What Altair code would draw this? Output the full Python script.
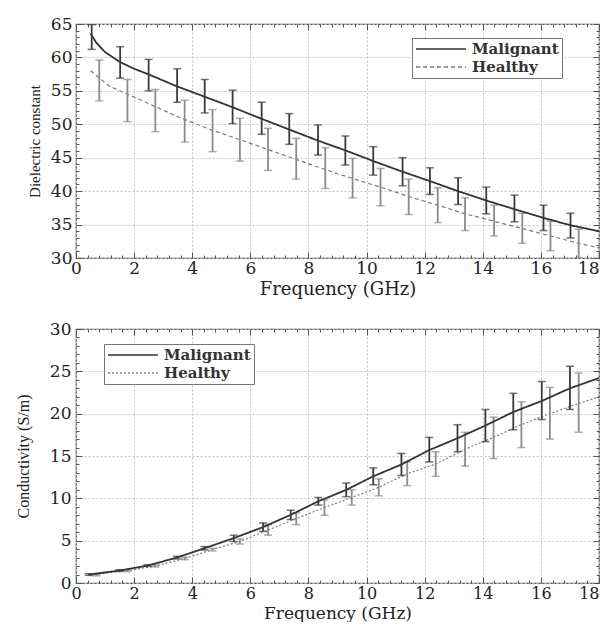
import altair as alt
import pandas as pd

# ---------------- Panel 1: dielectric constant ----------------
de_mal_f = [0.54, 1.52, 2.50, 3.48, 4.43, 5.39, 6.39, 7.34, 8.33, 9.27, 10.23, 11.24, 12.18, 13.15, 14.12, 15.09, 16.09, 17.02]
de_mal_lo = [61.2, 56.9, 55.0, 53.3, 51.7, 50.1, 48.5, 47.0, 45.4, 43.9, 42.4, 40.8, 39.5, 38.0, 36.6, 35.4, 34.1, 33.0]
de_mal_hi = [64.9, 61.6, 59.7, 58.3, 56.7, 55.1, 53.3, 51.6, 49.9, 48.25, 46.65, 45.0, 43.5, 42.0, 40.6, 39.4, 37.9, 36.7]

de_hea_f = [0.80, 1.77, 2.73, 3.74, 4.70, 5.64, 6.61, 7.58, 8.58, 9.52, 10.48, 11.45, 12.45, 13.39, 14.39, 15.36, 16.33, 17.30]
de_hea_lo = [53.5, 50.4, 48.9, 47.35, 45.9, 44.5, 43.1, 41.8, 40.4, 39.0, 37.8, 36.5, 35.3, 34.1, 33.3, 32.2, 31.1, 30.05]
de_hea_hi = [59.6, 56.7, 55.2, 53.6, 52.2, 50.9, 49.4, 47.9, 46.5, 44.9, 43.4, 41.8, 40.5, 39.0, 37.9, 36.7, 35.5, 34.3]

de_mal_curve_f = [0.5, 0.7, 1.0, 1.5, 2.0, 2.48, 3.46, 4.44, 5.36, 6.34, 7.32, 8.3, 9.27, 10.23, 11.24, 12.18, 13.15, 14.12, 15.09, 16.09, 17.02, 18.0]
de_mal_curve_v = [63.6, 62.2, 60.8, 59.35, 58.3, 57.5, 55.7, 54.1, 52.6, 50.9, 49.25, 47.6, 46.1, 44.5, 42.9, 41.5, 40.0, 38.6, 37.3, 36.0, 34.9, 34.0]

de_hea_curve_f = [0.5, 1.15, 2.3, 3.46, 4.6, 5.77, 6.92, 8.07, 9.0, 10.48, 11.45, 12.45, 13.39, 14.39, 15.36, 16.33, 17.3, 18.0]
de_hea_curve_v = [58.0, 55.7, 53.5, 51.2, 49.25, 47.5, 45.75, 44.0, 42.6, 40.6, 39.2, 37.9, 36.6, 35.5, 34.4, 33.3, 32.2, 31.5]

# ---------------- Panel 2: conductivity ----------------
co_mal_f = [0.44, 1.50, 2.46, 3.47, 4.42, 5.43, 6.44, 7.39, 8.34, 9.30, 10.23, 11.20, 12.16, 13.13, 14.09, 15.05, 16.03, 17.00]
co_mal_lo = [0.9, 1.37, 1.95, 2.85, 3.9, 4.9, 6.1, 7.5, 9.2, 10.2, 11.6, 12.7, 14.3, 15.5, 16.7, 18.1, 19.3, 20.5]
co_mal_hi = [1.1, 1.57, 2.15, 3.15, 4.3, 5.65, 7.1, 8.6, 10.1, 11.8, 13.6, 15.3, 17.2, 18.7, 20.5, 22.4, 23.8, 25.6]

co_hea_f = [0.70, 1.77, 2.73, 3.74, 4.70, 5.64, 6.61, 7.58, 8.55, 9.49, 10.42, 11.40, 12.38, 13.39, 14.37, 15.33, 16.31, 17.30]
co_hea_lo = [0.85, 1.35, 1.9, 2.75, 3.8, 4.6, 5.65, 6.9, 8.0, 9.2, 10.3, 11.5, 12.6, 13.8, 14.7, 16.0, 17.0, 17.8]
co_hea_hi = [1.05, 1.55, 2.1, 3.05, 4.1, 5.2, 6.9, 8.3, 9.8, 11.0, 12.3, 14.3, 15.5, 17.8, 19.6, 21.4, 23.1, 24.8]

co_mal_curve_f = [0.44, 1.5, 2.46, 3.47, 4.42, 5.43, 6.44, 7.39, 8.34, 9.3, 10.23, 11.2, 12.16, 13.13, 14.09, 15.05, 16.03, 17.0, 18.0]
co_mal_curve_v = [1.0, 1.47, 2.05, 3.0, 4.1, 5.3, 6.6, 8.05, 9.65, 11.0, 12.6, 14.0, 15.7, 17.1, 18.6, 20.2, 21.5, 23.0, 24.2]

co_hea_curve_f = [0.5, 1.77, 2.73, 3.74, 4.7, 5.64, 6.61, 7.58, 8.55, 9.49, 10.42, 11.4, 12.38, 13.39, 14.37, 15.33, 16.31, 17.3, 18.0]
co_hea_curve_v = [0.95, 1.45, 2.0, 2.9, 3.95, 4.9, 6.25, 7.6, 8.9, 10.1, 11.3, 12.9, 14.05, 15.8, 17.2, 18.7, 20.0, 21.2, 22.0]

# ---------------- tick labels ----------------
FREQ_MAJOR = [0, 2, 4, 6, 8, 10, 12, 14, 16, 18]
FREQ_MINOR = [round(i * 0.4, 1) for i in range(46)]
DE_MAJOR = [30, 35, 40, 45, 50, 55, 60, 65]
DE_MINOR = list(range(30, 66))
CO_MAJOR = [0, 5, 10, 15, 20, 25, 30]
CO_MINOR = list(range(0, 31))

SERIES = ["Malignant", "Healthy"]


def tick_axis(orient, vals, size):
    return alt.Axis(orient=orient, values=vals, labels=False, domain=False, grid=False,
                    ticks=True, tickSize=size, offset=-size, minExtent=0, title=None,
                    tickColor="#555555", tickWidth=1)


def panel(mal_f, mal_lo, mal_hi, hea_f, hea_lo, hea_hi, mcf, mcv, hcf, hcv,
          ydomain, ymajor, yminor, ytitle, ytitle_size, ytitle_pad, ylabel_pad,
          xlabel_pad, xtitle_pad, xlabel_size, xtitle_size,
          width, height, healthy_dash, lx, ly):
    bm = pd.DataFrame({"f": mal_f, "lo": mal_lo, "hi": mal_hi})
    bh = pd.DataFrame({"f": hea_f, "lo": hea_lo, "hi": hea_hi})
    lm = pd.DataFrame({"f": mcf, "v": mcv, "series": ["Malignant"] * len(mcf)})
    lh = pd.DataFrame({"f": hcf, "v": hcv, "series": ["Healthy"] * len(hcf)})

    xs = alt.Scale(domain=[0, 18], nice=False, zero=False)
    ys = alt.Scale(domain=ydomain, nice=False, zero=False)

    main_x = alt.Axis(orient="bottom", values=FREQ_MAJOR, title="Frequency (GHz)", grid=True,
                      ticks=False, domain=False, labelFlush=False, labelPadding=xlabel_pad,
                      labelAlign={"expr": "datum.value == 18 ? 'right' : 'center'"},
                      labelFontSize=xlabel_size, titleFontSize=xtitle_size,
                      titlePadding=xtitle_pad, format="d")
    main_y = alt.Axis(orient="left", values=ymajor, title=ytitle, grid=True, ticks=False,
                      domain=False, labelPadding=ylabel_pad, titlePadding=ytitle_pad,
                      titleFont="Liberation Serif", titleFontSize=ytitle_size, format="d")

    legend = alt.Legend(orient="none", legendX=lx, legendY=ly, title=None, direction="vertical",
                        symbolType="stroke", symbolSize=2500, symbolStrokeWidth=1.5,
                        clipHeight=16, rowPadding=2, padding=3, labelOffset=5,
                        labelFont="DejaVu Serif", labelFontSize=15, labelFontWeight="bold",
                        labelColor="#333333", strokeColor="#777777", fillColor="white")
    color = alt.Color("series:N", scale=alt.Scale(domain=SERIES, range=["#333333", "#7a7a7a"]),
                      legend=legend)
    dash = alt.StrokeDash("series:N", scale=alt.Scale(domain=SERIES, range=[[1, 0], healthy_dash]),
                          legend=legend)

    line_h = alt.Chart(lh).mark_line(strokeWidth=1.2, clip=True).encode(
        x=alt.X("f:Q", scale=xs, axis=main_x),
        y=alt.Y("v:Q", scale=ys, axis=main_y),
        color=color, strokeDash=dash)
    rule_h = alt.Chart(bh).mark_rule(color="#8a8a8a", strokeWidth=1.8, clip=True).encode(
        x=alt.X("f:Q", scale=xs, axis=tick_axis("bottom", FREQ_MAJOR, 6)),
        y=alt.Y("lo:Q", scale=ys, axis=tick_axis("left", ymajor, 6)),
        y2="hi:Q")
    cap_h_lo = alt.Chart(bh).mark_tick(color="#8a8a8a", orient="horizontal", size=8, thickness=1.5, clip=True).encode(
        x=alt.X("f:Q", scale=xs, axis=tick_axis("top", FREQ_MAJOR, 6)),
        y=alt.Y("lo:Q", scale=ys, axis=tick_axis("right", ymajor, 6)))
    cap_h_hi = alt.Chart(bh).mark_tick(color="#8a8a8a", orient="horizontal", size=8, thickness=1.5, clip=True).encode(
        x=alt.X("f:Q", scale=xs, axis=tick_axis("bottom", FREQ_MINOR, 3)),
        y=alt.Y("hi:Q", scale=ys, axis=tick_axis("left", yminor, 3)))
    line_m = alt.Chart(lm).mark_line(strokeWidth=1.8, clip=True).encode(
        x=alt.X("f:Q", scale=xs, axis=tick_axis("top", FREQ_MINOR, 3)),
        y=alt.Y("v:Q", scale=ys, axis=tick_axis("right", yminor, 3)),
        color=color, strokeDash=dash)
    rule_m = alt.Chart(bm).mark_rule(color="#3a3a3a", strokeWidth=1.8, clip=True).encode(
        x=alt.X("f:Q", scale=xs, axis=None),
        y=alt.Y("lo:Q", scale=ys, axis=None),
        y2="hi:Q")
    cap_m_lo = alt.Chart(bm).mark_tick(color="#3a3a3a", orient="horizontal", size=8, thickness=1.5, clip=True).encode(
        x=alt.X("f:Q", scale=xs, axis=None),
        y=alt.Y("lo:Q", scale=ys, axis=None))
    cap_m_hi = alt.Chart(bm).mark_tick(color="#3a3a3a", orient="horizontal", size=8, thickness=1.5, clip=True).encode(
        x=alt.X("f:Q", scale=xs, axis=None),
        y=alt.Y("hi:Q", scale=ys, axis=None))

    return alt.layer(line_h, rule_h, cap_h_lo, cap_h_hi, line_m, rule_m, cap_m_lo, cap_m_hi).resolve_axis(
        x="independent", y="independent").properties(width=width, height=height)


top = panel(de_mal_f, de_mal_lo, de_mal_hi, de_hea_f, de_hea_lo, de_hea_hi,
            de_mal_curve_f, de_mal_curve_v, de_hea_curve_f, de_hea_curve_v,
            [30, 65], DE_MAJOR, DE_MINOR, "Dielectric constant", 15, 8, 4, 2, 4, 17, 18,
            523, 234, [4, 3], 336, 14)
bottom = panel(co_mal_f, co_mal_lo, co_mal_hi, co_hea_f, co_hea_lo, co_hea_hi,
               co_mal_curve_f, co_mal_curve_v, co_hea_curve_f, co_hea_curve_v,
               [0, 30], CO_MAJOR, CO_MINOR, "Conductivity (S/m)", 16, 18, 5, 2, 4, 16, 17,
               523, 254, [2, 2], 28, 15)

chart = alt.vconcat(top, bottom, spacing=20).resolve_scale(
    x="independent", y="independent", color="independent", strokeDash="independent"
).resolve_legend(color="independent", strokeDash="independent").properties(
    padding={"left": 6, "top": 6, "right": 0, "bottom": 0}
).configure_view(stroke="#555555", strokeWidth=1.2).configure_axis(
    labelFont="DejaVu Serif", labelFontSize=17, labelColor="#222222",
    titleFont="DejaVu Serif", titleFontSize=18, titleFontWeight="normal", titleColor="#222222",
    gridColor="#c4c4c4", gridDash=[2, 2], gridWidth=1
)

chart.save("out.html", embed_options={"renderer": "svg", "actions": False})
